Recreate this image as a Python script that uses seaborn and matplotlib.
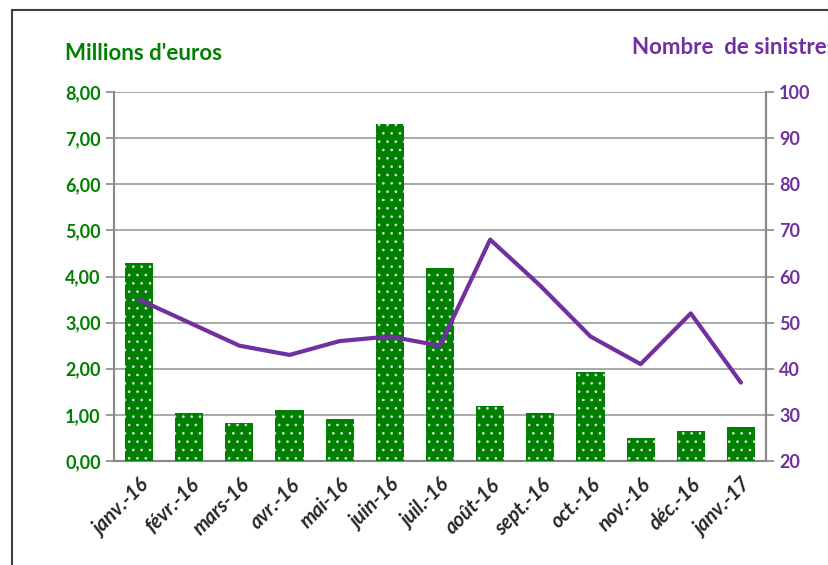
import matplotlib.pyplot as plt
import seaborn as sns
import numpy as np
import pandas as pd
from matplotlib.patches import Rectangle

# Données
mois = ['janv.-16', 'févr.-16', 'mars-16', 'avr.-16', 'mai-16', 'juin-16', 'juil.-16',
        'août-16', 'sept.-16', 'oct.-16', 'nov.-16', 'déc.-16', 'janv.-17']
montants = [4.30, 1.05, 0.83, 1.10, 0.92, 7.30, 4.18, 1.20, 1.05, 1.92, 0.50, 0.65, 0.73]
sinistres = [55, 50, 45, 43, 46, 47, 45, 68, 58, 47, 41, 52, 37]

vert = '#008000'
violet = '#7030A0'

sns.set_style('white')
plt.rcParams['font.family'] = ['Lato', 'DejaVu Sans']
plt.rcParams['hatch.linewidth'] = 0.7

df = pd.DataFrame({'mois': mois, 'montant': montants, 'sinistres': sinistres})

fig = plt.figure(figsize=(8.29, 5.65), dpi=100)
fig.patches.append(Rectangle((12 / 829, -0.1), 1.2, 1 - 10 / 565 + 0.1, transform=fig.transFigure,
                             fill=False, edgecolor='#404040', linewidth=1.5))
ax = fig.add_axes([114 / 829, 104 / 565, 652 / 829, 369 / 565])

sns.barplot(data=df, x='mois', y='montant', color=vert, width=0.56, ax=ax, zorder=3)
for p in ax.patches:
    p.set_facecolor(vert)
    p.set_edgecolor('#dddddd')
    p.set_hatch('..')
    p.set_linewidth(0)

ax.set_ylim(0, 8)
ax.set_yticks(np.arange(0, 9, 1))
ax.set_yticklabels([f'{v:.2f}'.replace('.', ',') for v in np.arange(0, 9, 1)],
                   color=vert, fontweight='bold', fontsize=13)
ax.set_xlim(-0.5, len(mois) - 0.5)
ax.yaxis.grid(True, color='#999999', linewidth=1.2, zorder=0)
ax.set_axisbelow(True)
ax.set_xlabel('')
ax.set_ylabel('')
ax.set_xticks(np.arange(len(mois)))
ax.set_xticklabels(mois, rotation=45, ha='right', rotation_mode='anchor',
                   fontstyle='italic', fontweight='bold', fontsize=14.5)
ax.set_xticks(np.arange(-0.5, len(mois)), minor=True)
ax.tick_params(axis='x', which='major', length=0, pad=10)
ax.tick_params(axis='x', which='minor', length=6, color='#888888', width=1.2)
ax.tick_params(axis='y', length=6, color='#888888', width=1.2, left=True)
for s in ['left', 'bottom', 'right']:
    ax.spines[s].set_color('#888888')
    ax.spines[s].set_linewidth(1.5)
ax.spines['top'].set_visible(False)

ax2 = ax.twinx()
sns.lineplot(x=np.arange(len(mois)), y=sinistres, color=violet, linewidth=3, ax=ax2)
ax2.set_ylim(20, 100)
ax2.set_yticks(np.arange(20, 101, 10))
ax2.set_yticklabels([str(v) for v in range(20, 101, 10)], color=violet, fontweight='bold', fontsize=13)
ax2.tick_params(axis='y', length=6, color='#888888', width=1.2, right=True)
ax2.spines['top'].set_visible(False)
ax2.spines['right'].set_color('#888888')
ax2.spines['right'].set_linewidth(1.5)
ax2.spines['left'].set_visible(False)
ax2.spines['bottom'].set_visible(False)

fig.text(65 / 829, 1 - 53 / 565, "Millions d'euros", color=vert, fontweight='bold', fontsize=16, va='center')
fig.text(632 / 829, 1 - 47 / 565, 'Nombre  de sinistres', color=violet, fontweight='bold', fontsize=16, va='center')

fig.savefig('out.png', dpi=100)
